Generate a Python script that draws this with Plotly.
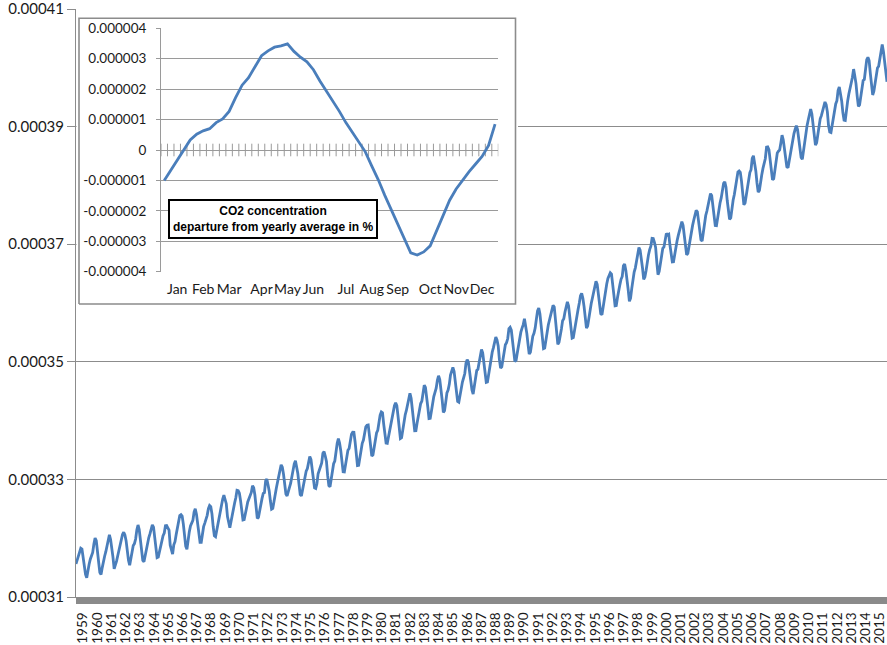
import plotly.graph_objects as go

# Canvas and margins (pixels)
W, H = 887, 645
ML, MR, MT, MB = 76, 0, 9, 48

# Monthly mean atmospheric CO2 at Mauna Loa, ppm, January..December
MONTHLY_PPM_1959 = [
    315.62, 316.38, 316.71, 317.72, 318.29, 318.15, 316.54, 314.80, 313.84, 313.26, 314.80, 315.58,
]
MONTHLY_PPM_1960S = [
    316.43, 316.97, 317.58, 319.02, 320.03, 319.59, 318.18, 315.91, 314.16, 313.83, 315.00, 316.19,
    316.93, 317.70, 318.54, 319.48, 320.58, 319.77, 318.57, 316.79, 314.80, 315.38, 316.10, 317.01,
    317.94, 318.56, 319.68, 320.63, 321.01, 320.55, 319.58, 317.40, 316.26, 315.42, 316.69, 317.69,
    318.74, 319.08, 319.86, 321.39, 322.25, 321.47, 319.74, 317.77, 316.21, 315.99, 317.12, 318.31,
    319.57, 320.07, 320.73, 321.77, 322.25, 321.89, 320.44, 318.70, 316.70, 316.79, 317.79, 318.71,
    319.44, 320.44, 320.89, 322.13, 322.16, 321.87, 321.39, 318.81, 317.81, 317.30, 318.87, 319.42,
    320.62, 321.59, 322.39, 323.87, 324.01, 323.75, 322.39, 320.37, 318.64, 318.10, 319.79, 321.08,
    322.07, 322.50, 323.04, 324.42, 325.00, 324.09, 322.55, 320.92, 319.31, 319.31, 320.72, 321.96,
    322.57, 323.15, 323.89, 325.02, 325.57, 325.36, 324.14, 322.03, 320.41, 320.25, 321.31, 322.84,
    324.00, 324.42, 325.64, 326.66, 327.34, 326.76, 325.88, 323.67, 322.38, 321.78, 322.85, 324.11,
]
MONTHLY_PPM_1970S = [
    325.03, 325.99, 326.87, 328.13, 328.07, 327.66, 326.35, 324.69, 323.10, 323.16, 323.98, 325.13,
    326.17, 326.68, 327.18, 327.78, 328.92, 328.57, 327.34, 325.46, 323.36, 323.57, 324.80, 326.01,
    326.77, 327.63, 327.75, 329.72, 330.07, 329.09, 328.05, 326.32, 324.93, 325.06, 326.50, 327.55,
    328.54, 329.56, 330.30, 331.50, 332.48, 332.07, 330.87, 329.31, 327.51, 327.18, 328.16, 328.64,
    329.35, 330.71, 331.48, 332.65, 333.16, 332.06, 330.99, 329.17, 327.41, 327.20, 328.33, 329.50,
    330.68, 331.41, 331.85, 333.29, 333.91, 333.40, 331.78, 329.88, 328.57, 328.46, 329.26, 330.97,
    331.69, 332.19, 332.81, 334.45, 334.72, 333.98, 333.05, 330.68, 328.95, 328.75, 330.15, 331.62,
    332.66, 333.13, 334.95, 336.13, 336.93, 336.17, 334.88, 332.56, 331.29, 331.27, 332.41, 333.60,
    334.95, 335.25, 336.66, 337.69, 338.03, 338.01, 336.41, 334.41, 332.37, 332.41, 333.75, 334.90,
    336.14, 336.69, 338.27, 338.95, 339.21, 339.26, 337.54, 335.75, 333.98, 334.19, 335.31, 336.81,
]
MONTHLY_PPM_1980S = [
    337.90, 338.34, 340.01, 340.93, 341.48, 341.33, 339.40, 337.70, 336.19, 336.15, 337.27, 338.32,
    339.29, 340.55, 341.61, 342.53, 343.03, 342.54, 340.78, 338.44, 336.95, 337.08, 338.58, 339.88,
    340.96, 341.73, 342.81, 343.97, 344.63, 343.79, 342.32, 340.09, 338.28, 338.29, 339.60, 340.90,
    341.68, 342.90, 343.33, 345.25, 346.03, 345.63, 344.19, 342.27, 340.35, 340.38, 341.59, 343.05,
    344.10, 344.79, 345.52, 346.84, 347.63, 346.98, 345.53, 343.55, 341.40, 341.67, 343.10, 344.70,
    345.21, 346.16, 347.74, 348.34, 349.06, 348.38, 346.72, 345.02, 343.27, 343.13, 344.49, 345.88,
    346.56, 347.28, 348.01, 349.77, 350.38, 349.93, 348.16, 346.08, 345.22, 344.51, 345.93, 347.22,
    348.52, 348.73, 349.73, 351.31, 352.09, 351.53, 350.11, 348.08, 346.52, 346.59, 347.96, 349.16,
    350.39, 351.64, 352.41, 353.69, 354.21, 353.72, 352.69, 350.40, 348.92, 349.13, 350.20, 351.41,
    352.91, 353.27, 353.96, 355.64, 355.86, 355.37, 353.99, 351.81, 350.05, 350.25, 351.49, 352.85,
]
MONTHLY_PPM_1990S = [
    353.80, 355.04, 355.73, 356.32, 357.32, 356.34, 354.84, 353.01, 351.31, 351.62, 353.07, 354.33,
    354.84, 355.73, 357.23, 358.66, 359.13, 358.13, 356.19, 353.85, 352.25, 352.35, 353.81, 355.12,
    356.25, 357.11, 357.86, 359.09, 359.59, 359.33, 357.01, 354.94, 352.96, 353.32, 354.32, 355.57,
    357.00, 357.31, 358.47, 359.27, 360.19, 359.52, 357.33, 355.64, 354.03, 354.12, 355.41, 356.91,
    358.24, 358.92, 359.99, 361.23, 361.65, 360.81, 359.38, 357.46, 355.73, 356.07, 357.53, 358.98,
    359.92, 360.86, 361.83, 363.30, 363.69, 363.19, 361.64, 359.12, 358.17, 357.99, 359.45, 360.68,
    362.07, 363.24, 364.17, 364.57, 365.13, 364.92, 363.55, 361.38, 359.54, 359.58, 360.89, 362.24,
    363.09, 364.03, 364.51, 366.35, 366.64, 365.59, 364.31, 362.25, 360.29, 360.82, 362.49, 364.38,
    365.26, 365.98, 367.24, 368.66, 369.42, 368.99, 367.82, 365.95, 364.02, 364.40, 365.52, 367.13,
    368.18, 369.07, 369.68, 370.99, 370.96, 370.30, 369.45, 366.90, 364.81, 365.37, 366.72, 368.10,
]
MONTHLY_PPM_2000S = [
    369.29, 369.54, 370.60, 371.82, 371.58, 371.70, 369.86, 368.13, 367.00, 367.03, 368.37, 369.67,
    370.59, 371.51, 372.43, 373.37, 373.85, 373.22, 371.50, 369.61, 368.18, 368.45, 369.76, 371.24,
    372.53, 373.20, 374.12, 375.02, 375.76, 375.52, 374.01, 371.85, 370.75, 370.55, 372.25, 373.79,
    374.88, 375.64, 376.45, 377.73, 378.60, 378.28, 376.70, 374.38, 373.17, 373.14, 374.66, 375.99,
    377.00, 377.87, 378.88, 380.35, 380.62, 379.69, 377.47, 376.01, 374.25, 374.46, 376.16, 377.51,
    378.46, 379.73, 380.77, 382.29, 382.45, 382.21, 380.74, 378.74, 376.70, 377.00, 378.35, 380.11,
    381.38, 382.19, 382.67, 384.61, 385.03, 384.05, 382.46, 380.41, 378.85, 379.13, 380.15, 381.82,
    382.89, 383.90, 384.58, 386.50, 386.56, 386.10, 384.50, 381.99, 380.96, 381.12, 382.45, 383.95,
    385.52, 385.82, 386.03, 387.21, 388.54, 387.76, 386.36, 384.09, 383.18, 382.99, 384.19, 385.56,
    386.94, 387.48, 388.82, 389.55, 390.14, 389.48, 388.03, 386.11, 384.74, 384.43, 386.02, 387.42,
]
MONTHLY_PPM_2010S = [
    388.71, 390.20, 391.17, 392.46, 393.00, 392.15, 390.20, 388.35, 386.85, 387.24, 388.67, 389.79,
    391.33, 391.86, 392.60, 393.25, 394.19, 393.74, 392.51, 390.13, 389.08, 389.00, 390.28, 391.86,
    393.12, 393.86, 394.40, 396.18, 396.74, 395.71, 394.36, 392.39, 391.11, 391.05, 392.98, 394.34,
    395.55, 396.80, 397.43, 398.41, 399.78, 398.61, 397.32, 395.20, 393.45, 393.70, 395.16, 396.84,
    397.85, 398.01, 399.77, 401.38, 401.78, 401.25, 399.10, 397.03, 395.38, 396.03, 397.28, 398.91,
    399.98, 400.28, 401.54, 403.28, 403.96, 402.80, 401.31, 398.93, 397.63,
]
FIRST_YEAR = 1959
YEAR_LABELS = [str(y) for y in range(1959, 2016)]
MAIN_Y_TICKS = [0.00031, 0.00033, 0.00035, 0.00037, 0.00039, 0.00041]

# Seasonal cycle: weekly departure from the yearly average (units of 1e-6)
WEEKLY_DEPARTURE_E6 = [
    -1.00, -0.67, -0.35, -0.02, 0.33, 0.52, 0.63, 0.70, 0.90, 1.02, 1.27, 1.72, 2.13,
    2.38, 2.72, 3.10, 3.26, 3.38, 3.42, 3.49, 3.24, 3.05, 2.90, 2.64, 2.27, 1.95,
    1.63, 1.27, 0.90, 0.59, 0.28, -0.06, -0.53, -0.98, -1.49, -1.97, -2.42, -2.90, -3.38,
    -3.45, -3.35, -3.15, -2.65, -2.15, -1.65, -1.28, -0.98, -0.71, -0.46, -0.21, 0.15, 0.85,
]
MONTH_LABELS = ["Jan", "Feb", "Mar", "Apr", "May", "Jun",
                "Jul", "Aug", "Sep", "Oct", "Nov", "Dec"]
MONTH_LABEL_WEEKS = [2, 6, 10, 15, 19, 23, 28, 32, 36, 41, 45, 49]
INSET_TICKS_E6 = [4, 3, 2, 1, 0, -1, -2, -3, -4]

LINE_BLUE = "#4a7ebb"
GRID_GREY = "#8c8c8c"
INSET_GREY = "#9a9a9a"
FONT = "Lato"

PLOT_W = W - ML - MR
PLOT_H = H - MT - MB


def px_x(px):
    """Pixel column -> paper fraction of the plotting area."""
    return (px - ML) / PLOT_W


def px_y(py):
    """Pixel row -> paper fraction of the plotting area."""
    return (H - MB - py) / PLOT_H


monthly_ppm = (MONTHLY_PPM_1959 + MONTHLY_PPM_1960S + MONTHLY_PPM_1970S
               + MONTHLY_PPM_1980S + MONTHLY_PPM_1990S + MONTHLY_PPM_2000S
               + MONTHLY_PPM_2010S)
month_pos = [FIRST_YEAR + i / 12 for i in range(len(monthly_ppm))]
fraction = [v * 1e-6 for v in monthly_ppm]

# Year labels: evenly spread from mid-1959 to just inside the right edge.
first_label = FIRST_YEAR + 0.49
last_label = month_pos[-1] - 0.5
n_labels = len(YEAR_LABELS)
year_label_pos = [first_label + k * (last_label - first_label) / (n_labels - 1)
                  for k in range(n_labels)]

weeks = list(range(len(WEEKLY_DEPARTURE_E6)))
departure = [v * 1e-6 for v in WEEKLY_DEPARTURE_E6]

# Inset panel box (pixels) and the slightly larger subplot that holds it,
# so the border line is not clipped at the subplot edge.
BOX_L, BOX_R, BOX_T, BOX_B = 79, 515.5, 18.3, 304
PAD = 2.5
box_w = BOX_R - BOX_L
box_h = BOX_B - BOX_T
panel_xrange = [-PAD / box_w, 1 + PAD / box_w]
panel_yrange = [-PAD / box_h, 1 + PAD / box_h]

fig = go.Figure()

fig.add_trace(go.Scatter(
    x=month_pos, y=fraction, mode="lines",
    line=dict(color=LINE_BLUE, width=2.8),
    xaxis="x", yaxis="y", showlegend=False, hoverinfo="skip",
))

# White panel behind the inset chart (covers the main gridlines)
fig.add_trace(go.Scatter(
    x=[0, 1, 1, 0, 0], y=[0, 0, 1, 1, 0], mode="lines",
    fill="toself", fillcolor="white",
    line=dict(color=GRID_GREY, width=1.6),
    xaxis="x2", yaxis="y2", showlegend=False, hoverinfo="skip",
))

# Category tick marks crossing the zero line of the inset
fig.add_trace(go.Scatter(
    x=[k - 0.5 for k in range(len(weeks) + 1)], y=[0] * (len(weeks) + 1),
    mode="markers",
    marker=dict(symbol="line-ns", size=9, line=dict(color=INSET_GREY, width=1)),
    xaxis="x3", yaxis="y3", showlegend=False, hoverinfo="skip",
))

fig.add_trace(go.Scatter(
    x=weeks, y=departure, mode="lines",
    line=dict(color=LINE_BLUE, width=2.8),
    xaxis="x3", yaxis="y3", showlegend=False, hoverinfo="skip",
))

hidden = dict(visible=False, showgrid=False, zeroline=False, fixedrange=True)

fig.update_layout(
    width=W, height=H,
    margin=dict(l=ML, r=MR, t=MT, b=MB, pad=0),
    paper_bgcolor="white", plot_bgcolor="white",
    template="none",
    showlegend=False,
    font=dict(family=FONT, color="#1a1a1a"),
    xaxis=dict(
        domain=[0, 1], anchor="y",
        range=[FIRST_YEAR, month_pos[-1]],
        tickmode="array",
        tickvals=year_label_pos,
        ticktext=YEAR_LABELS,
        tickangle=-90,
        tickfont=dict(family=FONT, size=13.5, color="#1a1a1a"),
        ticklabeloverflow="allow",
        ticks="",
        minor=dict(ticks="outside", ticklen=6, tickwidth=2,
                   tickcolor="#8a8a8a", tick0=FIRST_YEAR - 1 / 24,
                   dtick=1 / 12, showgrid=False),
        ticklabelstandoff=9,
        showgrid=False, zeroline=False,
        showline=True, linecolor="#8a8a8a", linewidth=1,
        automargin=False,
    ),
    yaxis=dict(
        domain=[0, 1], anchor="x",
        range=[0.00031, 0.0004100012],
        tickmode="array",
        tickvals=MAIN_Y_TICKS,
        ticktext=[f"{v:.5f}" for v in MAIN_Y_TICKS],
        tickfont=dict(family=FONT, size=15, color="#1a1a1a"),
        ticklabeloverflow="allow",
        ticks="outside", ticklen=8, tickcolor=GRID_GREY,
        showgrid=True, gridcolor=GRID_GREY, gridwidth=1,
        showline=True, linecolor=GRID_GREY, linewidth=1,
        zeroline=False, automargin=False,
    ),
    xaxis2=dict(domain=[px_x(BOX_L - PAD), px_x(BOX_R + PAD)], anchor="y2",
                range=panel_xrange, **hidden),
    yaxis2=dict(domain=[px_y(BOX_B + PAD), px_y(BOX_T - PAD)], anchor="x2",
                range=panel_yrange, **hidden),
    xaxis3=dict(
        domain=[px_x(161), px_x(498.3)], anchor="y3",
        range=[-0.5, len(weeks) - 0.5],
        tickmode="array", tickvals=MONTH_LABEL_WEEKS, ticktext=MONTH_LABELS,
        tickangle=0,
        tickfont=dict(family=FONT, size=14, color="#1a1a1a"),
        ticks="", ticklabelstandoff=7,
        showgrid=False, zeroline=False, showline=False,
        automargin=False,
    ),
    yaxis3=dict(
        domain=[px_y(271.7), px_y(28.3)], anchor="x3",
        range=[-4.0000001e-6, 4.0000001e-6],
        tickmode="array",
        tickvals=[v * 1e-6 for v in INSET_TICKS_E6],
        ticktext=[("0" if v == 0 else f"{v * 1e-6:.6f}") for v in INSET_TICKS_E6],
        tickfont=dict(family=FONT, size=13.5, color="#1a1a1a"),
        ticks="outside", ticklen=4, tickcolor=INSET_GREY,
        ticklabelstandoff=7,
        showgrid=True, gridcolor=INSET_GREY, gridwidth=1,
        showline=True, linecolor=INSET_GREY, linewidth=1,
        zeroline=True, zerolinecolor=INSET_GREY, zerolinewidth=1,
        automargin=False,
    ),
    annotations=[
        dict(xref="paper", yref="paper", x=px_x(273.3), y=px_y(218.5),
             xanchor="center", yanchor="middle",
             text="<b>CO2 concentration<br>departure from yearly average in %</b>",
             showarrow=False, align="center",
             font=dict(family="Liberation Sans", size=12, color="black"),
             bgcolor="white", bordercolor="black", borderwidth=2, borderpad=3),
    ],
)

fig.write_html("out.html")
